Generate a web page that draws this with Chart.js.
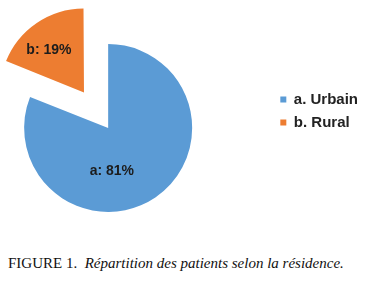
<!DOCTYPE html>
<html><head><meta charset="utf-8">
<script src="https://cdn.jsdelivr.net/npm/chart.js@4.4.0/dist/chart.umd.min.js"></script>
<style>
html,body{margin:0;padding:0;background:#fff;width:373px;height:290px;overflow:hidden;position:relative}
#wrap{position:absolute;left:-56px;top:0;width:429px;height:250px}
#cap{position:absolute;left:8px;top:255px;font-family:"Liberation Serif",serif;font-size:15px;color:#111;white-space:pre}
</style></head><body>
<div id="wrap"><canvas id="c" width="429" height="250"></canvas></div>
<div id="cap"><span>FIGURE 1.  </span><i>Répartition des patients selon la résidence.</i></div>
<script>
const categories = ['a. Urbain', 'b. Rural'];
const sliceKeys = ['a', 'b'];
const values = [81, 19];
const colors = ['#5B9BD5', '#ED7D31'];

// Chart.js slightly enlarges exploded arcs; cancel that so both slices share one radius.
const evenRadiusPlugin = {
  id: 'evenRadius',
  afterDatasetUpdate(chart, args) {
    args.meta.data.forEach(arc => {
      const off = (arc.options.offset || 0) / 4;
      const fix = 1 - Math.sin(Math.min(Math.PI, arc.circumference || 0));
      arc.outerRadius = arc.outerRadius - off * fix;
    });
  }
};

const sliceLabelPlugin = {
  id: 'sliceLabels',
  afterDatasetsDraw(chart, args, opts) {
    const ctx = chart.ctx;
    const meta = chart.getDatasetMeta(0);
    const total = values.reduce((a, b) => a + b, 0);
    ctx.save();
    ctx.font = 'bold 14px "Liberation Sans", Arial, sans-serif';
    ctx.fillStyle = '#1c1c1c';
    ctx.textAlign = 'center';
    ctx.textBaseline = 'middle';
    meta.data.forEach((arc, i) => {
      const mid = (arc.startAngle + arc.endAngle) / 2;
      const shift = (arc.options.offset || 0) / 4;
      const cx = arc.x + Math.cos(mid) * shift;
      const cy = arc.y + Math.sin(mid) * shift;
      const a = (opts.angles[i] - 90) * Math.PI / 180;
      const r = opts.radii[i] * 84;
      const pct = Math.round(values[i] / total * 100);
      ctx.fillText(sliceKeys[i] + ': ' + pct + '%', cx + Math.cos(a) * r, cy + Math.sin(a) * r);
    });
    ctx.restore();
  }
};

new Chart(document.getElementById('c'), {
  type: 'pie',
  data: {
    labels: categories,
    datasets: [{
      data: values,
      backgroundColor: colors,
      borderWidth: 0,
      offset: [0, 172],
      radius: 84,
      clip: false
    }]
  },
  options: {
    responsive: false,
    devicePixelRatio: 1,
    animation: false,
    events: [],
    cutout: '0%',
    layout: { padding: { left: 0, right: 5, top: 84, bottom: 78 } },
    plugins: {
      tooltip: { enabled: false },
      legend: {
        position: 'right',
        align: 'start',
        labels: {
          boxWidth: 6,
          boxHeight: 6,
          padding: 8,
          color: '#222',
          font: { family: '"Liberation Sans", Arial, sans-serif', size: 15, weight: 'bold' }
        }
      },
      sliceLabels: { angles: [175, 320], radii: [0.51, 0.65] }
    }
  },
  plugins: [evenRadiusPlugin, sliceLabelPlugin]
});
</script>
</body></html>
